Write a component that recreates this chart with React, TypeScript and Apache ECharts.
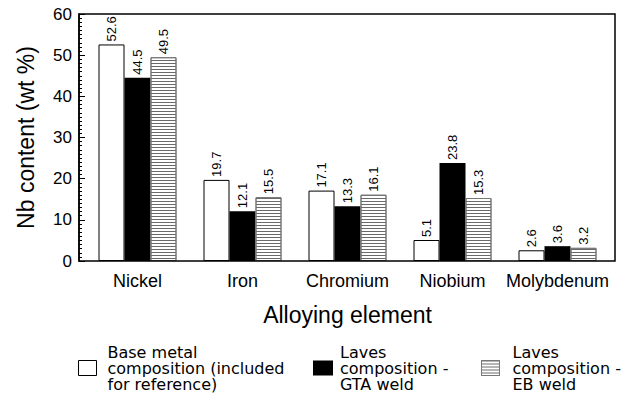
import React, { useEffect, useRef } from "react";
import * as echarts from "echarts";

const categories = ["Nickel", "Iron", "Chromium", "Niobium", "Molybdenum"];
const baseMetal = [52.6, 19.7, 17.1, 5.1, 2.6];
const gtaWeld = [44.5, 12.1, 13.3, 23.8, 3.6];
const ebWeld = [49.5, 15.5, 16.1, 15.3, 3.2];
const seriesNames = [
  "Base metal\ncomposition (included\nfor reference)",
  "Laves\ncomposition -\nGTA weld",
  "Laves\ncomposition -\nEB weld",
];
const yTicks = [0, 10, 20, 30, 40, 50, 60];

const FONT = "'Liberation Sans', Arial, Helvetica, sans-serif";
const LEGEND_FONT = "'DejaVu Sans', 'Liberation Sans', sans-serif";

const stripeDecal = {
  symbol: "rect",
  symbolSize: 1,
  dashArrayX: [[1, 0]],
  dashArrayY: [1, 2],
  rotation: 0,
  color: "#6a6a6a",
};

export default function App() {
  const ref = useRef<HTMLDivElement>(null);
  useEffect(() => {
    document.body.style.margin = "0";
    document.body.style.overflow = "hidden";
    if (!ref.current) return;
    const chart = echarts.init(ref.current, undefined, { renderer: "svg" });
    const label = {
      show: true,
      position: "top",
      distance: 3,
      rotate: 90,
      align: "left",
      verticalAlign: "middle",
      fontSize: 13,
      color: "#000",
      fontFamily: FONT,
      formatter: (p: any) => Number(p.value).toFixed(1),
    };
    const legendText = (padLeft: number) => ({
      fontSize: 16,
      lineHeight: 16,
      color: "#000",
      fontFamily: LEGEND_FONT,
      padding: [0, 0, 0, padLeft],
    });
    chart.setOption({
      animation: false,
      backgroundColor: "#fff",
      grid: { left: 85, right: 17, top: 14, bottom: 134 },
      graphic: [
        {
          type: "rect",
          shape: { x: 79, y: 14, width: 536, height: 247 },
          style: { fill: "none", stroke: "#000", lineWidth: 1.5 },
          z: 10,
        },
      ],
      xAxis: {
        type: "category",
        data: categories,
        axisLine: { show: false },
        axisTick: { show: false },
        axisLabel: { interval: 0, fontSize: 18, color: "#000", fontFamily: FONT, margin: 11 },
        name: "Alloying element",
        nameLocation: "middle",
        nameGap: 42,
        nameTextStyle: { fontSize: 23, color: "#000", fontFamily: FONT },
      },
      yAxis: {
        type: "value",
        min: 0,
        max: 60,
        interval: 10,
        offset: 6,
        axisLine: { show: true, lineStyle: { color: "#000", width: 1.5 } },
        axisTick: { show: true, inside: true, length: 6, lineStyle: { color: "#000" } },
        minorTick: { show: true, splitNumber: 10, length: 3, lineStyle: { color: "#000" } },
        splitLine: { show: false },
        axisLabel: {
          fontSize: 17,
          color: "#000",
          fontFamily: FONT,
          margin: 7,
          formatter: (v: number) => (yTicks.includes(v) ? String(v) : ""),
        },
        name: "Nb content (wt %)",
        nameLocation: "middle",
        nameGap: 42,
        nameRotate: 90,
        nameTextStyle: { fontSize: 23, color: "#000", fontFamily: FONT },
      },
      legend: [
        {
          data: [seriesNames[0]],
          left: 73,
          top: 339,
          itemWidth: 18,
          itemHeight: 15,
          icon: "rect",
          itemStyle: { color: "#fff", borderColor: "#000", borderWidth: 1 },
          textStyle: legendText(6),
        },
        {
          data: [seriesNames[1]],
          left: 308,
          top: 339,
          itemWidth: 20,
          itemHeight: 15,
          icon: "rect",
          itemStyle: { color: "#000", borderWidth: 0 },
          textStyle: legendText(2),
        },
        {
          data: [seriesNames[2]],
          left: 476,
          top: 339,
          itemWidth: 18,
          itemHeight: 15,
          icon: "rect",
          itemStyle: { color: "#fff", borderColor: "#777", borderWidth: 1, decal: stripeDecal },
          textStyle: legendText(8),
        },
      ],
      series: [
        {
          name: seriesNames[0],
          type: "bar",
          data: baseMetal,
          barWidth: 26,
          barGap: "0%",
          itemStyle: { color: "#fff", borderColor: "#000", borderWidth: 1 },
          label,
        },
        {
          name: seriesNames[1],
          type: "bar",
          data: gtaWeld,
          barWidth: 26,
          barGap: "0%",
          itemStyle: { color: "#000" },
          label,
        },
        {
          name: seriesNames[2],
          type: "bar",
          data: ebWeld,
          barWidth: 26,
          barGap: "0%",
          itemStyle: { color: "#fff", borderColor: "#777", borderWidth: 1, decal: stripeDecal },
          label,
        },
      ],
    });
    return () => chart.dispose();
  }, []);
  return <div ref={ref} style={{ width: 627, height: 395 }} />;
}
